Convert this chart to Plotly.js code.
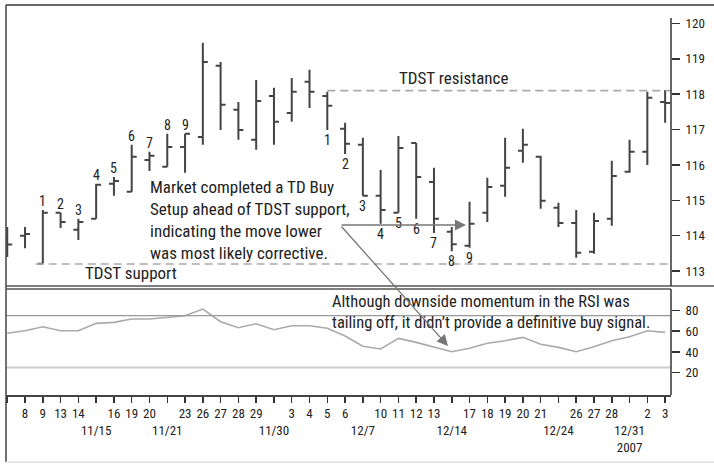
<!DOCTYPE html>
<html>
<head>
<meta charset="utf-8">
<script src="https://cdn.plot.ly/plotly-3.0.1.min.js"></script>
<style>html,body{margin:0;padding:0;background:#fff;}#chart{width:714px;height:464px;}</style>
</head>
<body>
<div id="chart"></div>
<script>
// ---- data (trading-day index -1 .. 36) ----
var dayIndex = [-1,0,1,2,3,4,5,6,7,8,9,10,11,12,13,14,15,16,17,18,19,20,21,22,23,24,25,26,27,28,29,30,31,32,33,34,35,36];
var tickLabels = ["","8","9","13","14","<br>11/15","16","19","20","<br>11/21","23","26","27","28","29","<br>11/30","3","4","5","6","<br>12/7","10","11","12","13","<br>12/14","17","18","19","20","21","<br>12/24","26","27","28","<br>12/31<br>2007","2","3"];
var opens  = [113.90,114.00,113.21,114.65,114.17,114.48,115.47,115.24,116.14,115.95,116.51,116.79,118.80,117.56,116.71,117.95,117.47,118.35,117.95,117.02,116.57,115.13,114.65,116.62,115.52,114.11,113.72,114.65,115.41,116.40,116.23,114.79,114.36,113.55,114.48,115.81,116.37,117.78];
var highs  = [114.25,114.25,114.73,114.65,114.48,115.47,115.66,116.57,116.37,116.88,116.88,119.45,118.91,117.78,118.40,118.18,118.46,118.69,118.07,117.19,116.77,115.86,116.82,116.62,115.92,114.25,114.96,115.64,116.77,117.02,116.26,114.93,114.73,114.65,116.12,116.71,118.07,118.12];
var lows   = [113.40,113.65,113.21,114.22,113.88,114.48,115.13,115.24,115.83,115.95,115.78,116.57,116.99,116.71,116.43,116.57,117.22,117.61,116.99,116.31,115.13,114.34,114.65,114.48,114.08,113.56,113.66,114.39,115.10,116.06,114.76,114.25,113.38,113.49,114.28,115.78,116.00,117.19];
var closes = [113.75,114.05,114.65,114.39,114.39,115.44,115.55,116.23,116.26,116.51,116.88,118.91,117.70,116.99,117.81,117.22,118.07,118.07,117.67,116.60,115.13,114.73,116.48,115.66,114.48,113.76,114.34,115.38,115.92,116.57,114.99,114.36,113.52,114.42,115.69,116.37,117.90,117.75];
var rsi    = [57.9,60.4,64.2,60.4,60.4,67.5,68.4,71.6,71.6,72.9,74.8,81.2,69.0,63.3,67.1,61.4,65.2,65.2,62.7,55.3,45.5,42.8,53.0,49.2,44.4,40.2,43.5,48.3,50.8,54.0,47.3,44.4,40.2,45.0,50.8,54.6,60.4,58.8];
var priceTicks = [113,114,115,116,117,118,119,120];
var rsiTicks = [20,40,60,80];
var rsiLevels = [75,25];
var tdstResistance = 118.1, tdstSupport = 113.2;
var setupUpIdx = [1,2,3,4,5,6,7,8,9];       // counts drawn above highs
var setupDownIdx = [17,18,19,20,21,22,23,24,25]; // counts drawn below lows
var setupLabels = ["1","2","3","4","5","6","7","8","9"];

var FONT = "'Liberation Sans Narrow','Arial Narrow','Roboto Condensed',sans-serif";
var TXT = '#222';

var traces = [
  {type:'ohlc', x:dayIndex, open:opens, high:highs, low:lows, close:closes,
   xaxis:'x', yaxis:'y', tickwidth:0.28,
   increasing:{line:{color:'#444', width:2}}, decreasing:{line:{color:'#444', width:2}},
   hoverinfo:'skip'},
  {type:'scatter', mode:'lines', x:dayIndex, y:rsi, xaxis:'x', yaxis:'y2',
   line:{color:'#aaa', width:1.6}, hoverinfo:'skip'}
];

var ann = [];
function idxPos(i){ return dayIndex.indexOf(i); }
setupUpIdx.forEach(function(i,k){
  ann.push({x:i, y:highs[idxPos(i)], xref:'x', yref:'y', text:setupLabels[k], showarrow:false,
    yanchor:'middle', yshift:9, font:{family:FONT, size:14, color:TXT}});
});
setupDownIdx.forEach(function(i,k){
  ann.push({x:i, y:lows[idxPos(i)], xref:'x', yref:'y', text:setupLabels[k], showarrow:false,
    yanchor:'middle', yshift:-10, font:{family:FONT, size:14, color:TXT}});
});
ann.push({x:24.07, y:118.46, xref:'x', yref:'y', text:'TDST resistance', showarrow:false,
  font:{family:FONT, size:17, color:TXT}});
ann.push({x:5.96, y:112.95, xref:'x', yref:'y', text:'TDST support', showarrow:false,
  font:{family:FONT, size:17, color:TXT}});
ann.push({x:6.9, y:114.44, xref:'x', yref:'y', xanchor:'left', yanchor:'middle', align:'left',
  text:'Market completed a TD Buy<br>Setup ahead of TDST support,<br>indicating the move lower<br>was most likely corrective.',
  showarrow:false, font:{family:FONT, size:17, color:TXT}});
ann.push({x:17.15, y:78.8, xref:'x', yref:'y2', xanchor:'left', yanchor:'middle', align:'left',
  text:'Although downside momentum in the RSI was<br>tailing off, it didn\u2019t provide a definitive buy signal.',
  showarrow:false, font:{family:FONT, size:16.5, color:TXT}});
// arrows
ann.push({x:24.8, y:0.4359, xref:'x', yref:'paper', ax:17.72, ay:0.4359, axref:'x', ayref:'paper',
  text:'', showarrow:true, arrowhead:2, arrowsize:1.7, arrowwidth:1.3, arrowcolor:'#777', standoff:0});
ann.push({x:23.79, y:0.1256, xref:'x', yref:'paper', ax:17.72, ay:0.4359, axref:'x', ayref:'paper',
  text:'', showarrow:true, arrowhead:2, arrowsize:1.7, arrowwidth:1.3, arrowcolor:'#777', standoff:0});

var shapes = [];
// TDST lines
shapes.push({type:'line', xref:'x', yref:'y', x0:17, x1:36.33, y0:tdstResistance, y1:tdstResistance,
  line:{color:'#aaa', width:1.6, dash:'8px,5px'}});
shapes.push({type:'line', xref:'x', yref:'y', x0:0.6, x1:36.33, y0:tdstSupport, y1:tdstSupport,
  line:{color:'#aaa', width:1.6, dash:'8px,5px'}});
// RSI levels
shapes.push({type:'line', xref:'paper', yref:'y2', x0:0, x1:1, y0:rsiLevels[0], y1:rsiLevels[0],
  line:{color:'#999', width:1.2}});
shapes.push({type:'line', xref:'paper', yref:'y2', x0:0, x1:1, y0:rsiLevels[1], y1:rsiLevels[1],
  line:{color:'#ccc', width:2}});
// frame
var frame = '#555';
shapes.push({type:'line', xref:'paper', yref:'paper', x0:0, x1:1.07, y0:1, y1:1, line:{color:'#666', width:2}});
shapes.push({type:'line', xref:'paper', yref:'paper', x0:0, x1:0, y0:-0.172, y1:1, line:{color:'#444', width:1.5}});
shapes.push({type:'line', xref:'paper', yref:'paper', x0:0, x1:1.07, y0:0.2795, y1:0.2795, line:{color:frame, width:1.5}});
shapes.push({type:'line', xref:'paper', yref:'paper', x0:0, x1:1, y0:0.2718, y1:0.2718, line:{color:frame, width:1.5}});
shapes.push({type:'line', xref:'paper', yref:'paper', x0:1, x1:1, y0:0.2795, y1:0.9667, line:{color:'#333', width:1.5}});
shapes.push({type:'line', xref:'paper', yref:'paper', x0:1, x1:1, y0:0, y1:0.2718, line:{color:'#333', width:1.5}});
shapes.push({type:'line', xref:'paper', yref:'paper', x0:0, x1:1.07, y0:-0.172, y1:-0.172, line:{color:'#ddd', width:1.5}});

var tickFont = {family:FONT, size:13, color:TXT};
var layout = {
  width:714, height:464,
  margin:{l:6, r:43, t:5, b:69, pad:0},
  paper_bgcolor:'#fff', plot_bgcolor:'#fff',
  showlegend:false,
  xaxis:{range:[-1.07,36.33], tickvals:dayIndex, ticktext:tickLabels, tickmode:'array', tickangle:0,
    ticks:'outside', ticklen:6, tickwidth:1.5, tickcolor:'#333',
    showline:true, linecolor:'#444', linewidth:1.5, showgrid:false, zeroline:false,
    anchor:'y2', rangeslider:{visible:false}, tickfont:tickFont, fixedrange:true},
  yaxis:{domain:[0.2795,1], range:[112.58,120.52], side:'right', anchor:'x',
    tickvals:priceTicks, ticktext:priceTicks.map(String), tickmode:'array', ticklabelstandoff:3,
    ticks:'outside', ticklen:8, tickwidth:1.5, tickcolor:'#333',
    showline:false, showgrid:false, zeroline:false, tickfont:tickFont, fixedrange:true},
  yaxis2:{domain:[0,0.2718], range:[-1.4,100.5], side:'right', anchor:'x',
    tickvals:rsiTicks, ticktext:rsiTicks.map(String), tickmode:'array', ticklabelstandoff:3,
    ticks:'outside', ticklen:8, tickwidth:1.5, tickcolor:'#333',
    showline:false, showgrid:false, zeroline:false, tickfont:tickFont, fixedrange:true},
  annotations:ann,
  shapes:shapes
};
Plotly.newPlot('chart', traces, layout, {staticPlot:true, displayModeBar:false});
</script>
</body>
</html>
